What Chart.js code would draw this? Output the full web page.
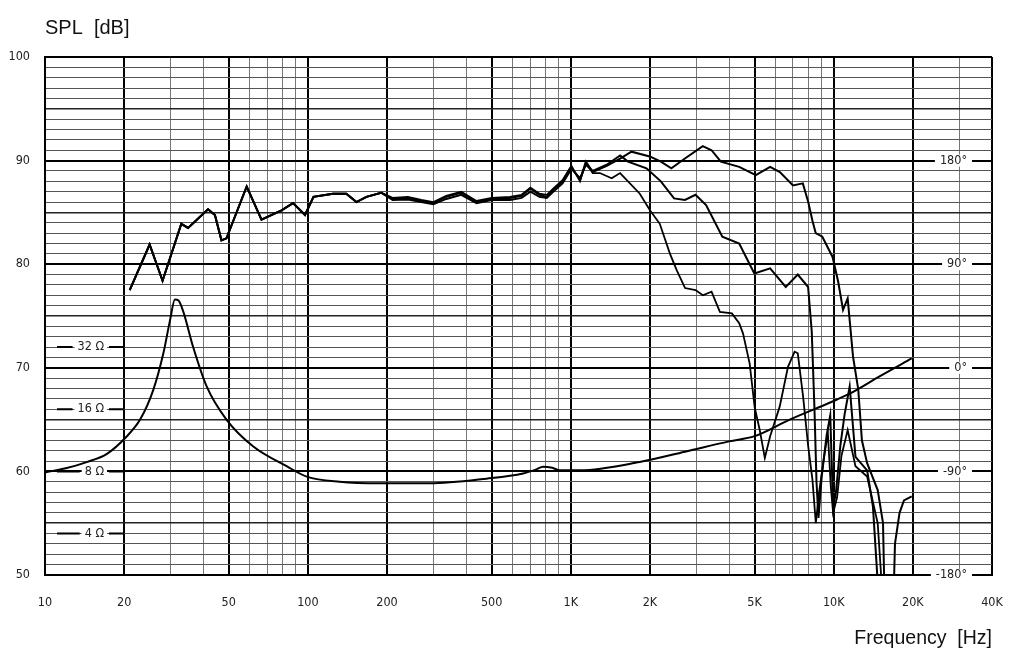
<!DOCTYPE html>
<html>
<head>
<meta charset="utf-8">
<script src="https://cdn.jsdelivr.net/npm/chart.js@4.4.1/dist/chart.umd.min.js"></script>
<style>
html,body{margin:0;padding:0;background:#fff;}
canvas{display:block;}
</style>
</head>
<body>
<canvas id="c" width="1024" height="664"></canvas>
<script>
// ---------- data ----------
const yTitle = 'SPL  [dB]';
const xTitle = 'Frequency  [Hz]';

const xTickValues = [10, 20, 50, 100, 200, 500, 1000, 2000, 5000, 10000, 20000, 40000];
const xTickLabels = ['10', '20', '50', '100', '200', '500', '1K', '2K', '5K', '10K', '20K', '40K'];
const xDecades = [10, 100, 1000, 10000];
const xMultipliers = [1, 2, 3, 4, 5, 6, 7, 8, 9];

const impLabels = ['32 \u03A9', '16 \u03A9', '8 \u03A9', '4 \u03A9'];
const impLevels = [72, 66, 60, 54];
const phaseLabels = ['180\u00B0', '90\u00B0', '0\u00B0', '-90\u00B0', '-180\u00B0'];
const phaseLevels = [90, 80, 70, 60, 50];

// shared low-frequency part of the three SPL curves
const lowFreq = [21, 25, 28, 33, 35, 41.7, 44.3, 46.9, 49, 58.5, 66.6, 79.4, 87.8, 97.5, 105, 124.5, 140, 153, 167, 190];
const lowDb   = [77.5, 81.9, 78.4, 83.9, 83.5, 85.3, 84.75, 82.3, 82.5, 87.5, 84.3, 85.2, 85.9, 84.75, 86.5, 86.8, 86.8, 86.0, 86.5, 86.9];

// SPL curve A (top)
const splAFreq = [210, 240, 270, 300, 336, 383, 438, 500, 587, 650, 702, 760, 810, 857, 930, 1005, 1084, 1141, 1212, 1370, 1540, 1701, 1996, 2200, 2412, 2717, 3176, 3430, 3722, 4370, 5055, 5730, 6240, 7000, 7630, 8000, 8300, 8540, 9050, 9900, 10400, 10850, 11300, 11840, 12400, 12800, 13400, 14700, 15400, 15600, 16900, 17100, 17800, 18500, 19800];
const splADb   = [86.3, 86.4, 86.1, 85.9, 86.5, 86.9, 86.0, 86.3, 86.4, 86.6, 87.3, 86.7, 86.5, 87.2, 88.0, 89.4, 88.1, 89.9, 88.9, 89.5, 90.2, 90.86, 90.4, 89.9, 89.25, 90.2, 91.4, 91.0, 89.9, 89.4, 88.6, 89.4, 88.9, 87.6, 87.8, 86.0, 84.2, 83.0, 82.65, 80.7, 78.3, 75.6, 76.7, 71.1, 67.9, 63.0, 60.8, 58.2, 55.0, 48, 48, 53.0, 56.0, 57.2, 57.6];

// SPL curve B (middle)
const splBFreq = [210, 240, 270, 300, 336, 383, 438, 500, 587, 650, 702, 760, 810, 857, 930, 1005, 1084, 1141, 1212, 1370, 1540, 1650, 1940, 2200, 2470, 2717, 2980, 3270, 3770, 4370, 4990, 5730, 6570, 7300, 7990, 8250, 8450, 8600, 8750, 9000, 9400, 9700, 9850, 9950, 10200, 10600, 11000, 11500, 12100, 13400, 14100, 14600, 14800];
const splBDb   = [86.2, 86.25, 86.0, 85.8, 86.3, 86.7, 85.9, 86.2, 86.2, 86.4, 87.0, 86.5, 86.4, 87.0, 87.8, 89.2, 88.3, 89.6, 89.0, 89.6, 90.5, 89.9, 89.25, 88.0, 86.35, 86.2, 86.7, 85.7, 82.65, 82.0, 79.1, 79.6, 77.8, 79.0, 77.8, 73.5, 66.0, 59.0, 55.5, 59.5, 63.5, 65.4, 60.0, 56.5, 58.0, 62.5, 65.5, 68.2, 61.4, 60.1, 56.6, 50.5, 48];

// SPL curve C (lowest)
const splCFreq = [210, 240, 270, 300, 336, 383, 438, 500, 587, 650, 702, 760, 810, 857, 930, 1005, 1084, 1141, 1212, 1290, 1430, 1540, 1830, 2000, 2180, 2380, 2530, 2720, 2980, 3180, 3430, 3690, 4100, 4370, 4520, 4790, 5000, 5230, 5470, 5730, 6230, 6700, 7100, 7300, 7650, 8000, 8300, 8550, 8800, 9200, 9500, 9750, 9950, 10300, 10700, 11300, 12100, 13400, 14700, 15100, 15300];
const splCDb   = [86.4, 86.5, 86.2, 86.0, 86.6, 87.0, 86.1, 86.4, 86.5, 86.7, 87.4, 86.8, 86.7, 87.3, 88.1, 89.5, 88.0, 89.8, 88.8, 88.8, 88.3, 88.8, 86.8, 85.2, 83.9, 81.05, 79.4, 77.7, 77.5, 77.0, 77.35, 75.4, 75.25, 74.3, 73.3, 70.4, 66.25, 64.0, 61.3, 63.4, 66.25, 70.1, 71.55, 71.4, 67.2, 62.4, 59.2, 55.0, 58.0, 61.5, 63.7, 58.5, 56.0, 57.5, 61.5, 64.0, 60.5, 59.5, 55.0, 50.5, 48];

// impedance curve (plotted on the dB scale)
const impFreq = [10, 12, 14.4, 17.2, 20.4, 23, 25.8, 28.2, 29.9, 31.2, 32.2, 33.6, 36.6, 41.2, 49, 62, 83, 99, 132, 188, 290, 478, 658, 740, 784, 850, 908, 1084, 1828, 2717, 4000, 5000, 6800, 9800, 11500, 15000, 19800];
const impDb   = [59.9, 60.3, 60.9, 61.7, 63.35, 65.0, 67.85, 71.4, 74.6, 76.6, 76.5, 75.4, 72.0, 68.2, 65.0, 62.4, 60.5, 59.5, 59.0, 58.85, 58.85, 59.3, 59.8, 60.2, 60.45, 60.35, 60.1, 60.1, 60.9, 61.9, 62.9, 63.4, 65.0, 66.7, 67.5, 69.2, 70.9];

// ---------- helpers ----------
const pts = (f, d) => f.map((x, i) => ({ x: x, y: d[i] }));
const xGridValues = [];
xDecades.forEach(d => xMultipliers.forEach(m => { if (m * d <= 40000) xGridValues.push(m * d); }));

const NARROW = "'Liberation Sans Narrow', 'DejaVu Sans Condensed', 'Arial Narrow', sans-serif";
const SANS = "'Liberation Sans', Arial, Helvetica, sans-serif";

function isMajorX(v) {
  const m = Math.round(v / Math.pow(10, Math.floor(Math.log10(v) + 1e-9)));
  return m === 1 || m === 2 || m === 5 || v === 40000;
}

const labelsPlugin = {
  id: 'labelsPlugin',
  beforeDatasetsDraw(chart) {
    const { ctx, scales } = chart;
    const x = scales.x, y = scales.y;
    ctx.save();
    ctx.font = '12.5px ' + NARROW;
    ctx.textBaseline = 'middle';
    // impedance labels on the left
    impLabels.forEach((t, i) => {
      const py = y.getPixelForValue(impLevels[i]);
      const right = x.left + 59;
      const w = ctx.measureText(t).width;
      ctx.strokeStyle = '#000';
      ctx.lineWidth = 2;
      ctx.beginPath();
      ctx.moveTo(x.left + 12, py);
      ctx.lineTo(right - w - 5, py);
      ctx.moveTo(right + 5, py);
      ctx.lineTo(x.getPixelForValue(20), py);
      ctx.stroke();
      ctx.fillStyle = '#fff';
      ctx.fillRect(right - w - 3, py - 6, w + 6, 12);
      ctx.fillStyle = '#222';
      ctx.textAlign = 'right';
      ctx.fillText(t, right, py);
    });
    // phase labels on the right
    phaseLabels.forEach((t, i) => {
      const py = y.getPixelForValue(phaseLevels[i]);
      const right = x.getPixelForValue(40000) - 25;
      const w = ctx.measureText(t).width;
      ctx.fillStyle = '#fff';
      ctx.fillRect(right - w - 5, py - 6, w + 10, 12);
      ctx.fillStyle = '#222';
      ctx.textAlign = 'right';
      ctx.fillText(t, right, py);
    });
    ctx.restore();
  },
  afterDraw(chart) {
    const { ctx, scales } = chart;
    ctx.save();
    ctx.font = '20px ' + SANS;
    ctx.fillStyle = '#111';
    ctx.textAlign = 'left';
    ctx.textBaseline = 'middle';
    ctx.fillText(yTitle, scales.x.left, 28);
    ctx.restore();
  }
};

const lineDs = (label, data, w) => ({
  label: label,
  data: data,
  borderColor: '#000',
  borderWidth: w,
  pointRadius: 0,
  fill: false,
  tension: 0
});

new Chart(document.getElementById('c'), {
  type: 'line',
  data: {
    datasets: [
      Object.assign(lineDs('Impedance', pts(impFreq, impDb), 2), { cubicInterpolationMode: 'monotone' }),
      lineDs('SPL A', pts(lowFreq.concat(splAFreq), lowDb.concat(splADb)), 2),
      lineDs('SPL B', pts(lowFreq.concat(splBFreq), lowDb.concat(splBDb)), 2),
      lineDs('SPL C', pts(lowFreq.concat(splCFreq), lowDb.concat(splCDb)), 1.8)
    ]
  },
  options: {
    responsive: false,
    animation: false,
    events: [],
    layout: { padding: { top: 57, right: 32, bottom: 0, left: 0 } },
    plugins: { legend: { display: false }, tooltip: { enabled: false }, title: { display: false } },
    scales: {
      x: {
        type: 'logarithmic',
        min: 10,
        max: 40000,
        afterBuildTicks: (s) => { s.ticks = xGridValues.map(v => ({ value: v })); },
        afterFit: (s) => { s.height = 89; },
        ticks: {
          autoSkip: false,
          maxRotation: 0,
          minRotation: 0,
          padding: 20,
          color: '#222',
          font: { family: NARROW, size: 12.5 },
          callback: (v) => { const i = xTickValues.indexOf(v); return i >= 0 ? xTickLabels[i] : ''; }
        },
        grid: {
          drawTicks: false,
          color: (c) => isMajorX(c.tick.value) ? '#000' : '#777',
          lineWidth: (c) => isMajorX(c.tick.value) ? 2 : 1
        },
        border: { display: true, color: '#000', width: 2 },
        title: {
          display: true,
          text: xTitle,
          align: 'end',
          color: '#111',
          font: { family: SANS, size: 19.5 },
          padding: { top: 0, bottom: 14 }
        }
      },
      y: {
        type: 'linear',
        min: 50,
        max: 100,
        afterFit: (s) => { s.width = 45; },
        ticks: {
          stepSize: 1,
          autoSkip: false,
          padding: 15,
          color: '#222',
          font: { family: NARROW, size: 12.5 },
          callback: (v) => (v % 10 === 0 ? String(v) : '')
        },
        grid: {
          drawTicks: false,
          color: (c) => (c.tick.value % 10 === 0 ? '#000' : (c.tick.value % 5 === 0 ? '#222' : '#555')),
          lineWidth: (c) => (c.tick.value % 10 === 0 ? 2 : (c.tick.value % 5 === 0 ? 1.6 : 1))
        },
        border: { display: true, color: '#000', width: 2 }
      }
    }
  },
  plugins: [labelsPlugin]
});
</script>
</body>
</html>
